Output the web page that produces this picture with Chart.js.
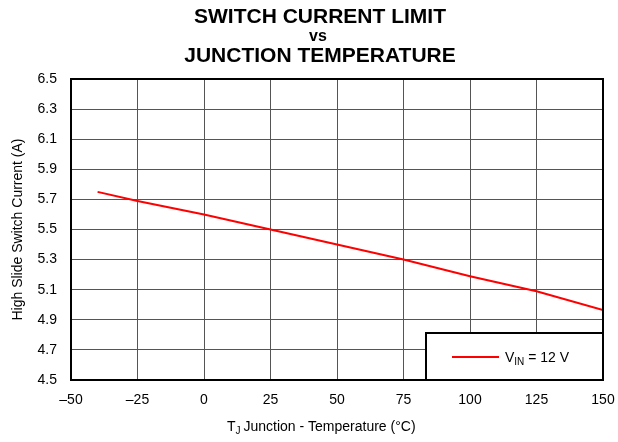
<!DOCTYPE html>
<html>
<head>
<meta charset="utf-8">
<script src="https://cdn.jsdelivr.net/npm/chart.js@4.4.0/dist/chart.umd.min.js"></script>
<style>
  html, body { margin: 0; padding: 0; background: #fff; }
  #wrap { width: 618px; height: 442px; }
</style>
</head>
<body>
<div id="wrap"><canvas id="chart" width="618" height="442"></canvas></div>
<script>
const temps = [-40, -25, 0, 25, 50, 75, 100, 125, 150];
const current = [5.75, 5.69, 5.60, 5.50, 5.40, 5.30, 5.19, 5.09, 4.965];
const xTicks = [-50, -25, 0, 25, 50, 75, 100, 125, 150];
const yTicks = [4.5, 4.7, 4.9, 5.1, 5.3, 5.5, 5.7, 5.9, 6.1, 6.3, 6.5];
const titleLines = ["SWITCH CURRENT LIMIT", "vs", "JUNCTION TEMPERATURE"];
const seriesName = ["V", "IN", " = 12 V"];

const FONT = "'Liberation Sans', Arial, sans-serif";

const extras = {
    id: "extras",
    afterDraw(chart) {
        const ctx = chart.ctx;
        const a = chart.chartArea;
        ctx.save();

        // title
        ctx.fillStyle = "#000";
        ctx.textAlign = "center";
        ctx.textBaseline = "middle";
        ctx.font = "bold 21px " + FONT;
        ctx.fillText(titleLines[0], 320, 17, 254);
        ctx.font = "bold 16px " + FONT;
        ctx.fillText(titleLines[1], 318, 37);
        ctx.font = "bold 21px " + FONT;
        ctx.fillText(titleLines[2], 320, 56, 275);

        // frame
        ctx.strokeStyle = "#000";
        ctx.lineWidth = 2;
        ctx.strokeRect(a.left, a.top, a.right - a.left, a.bottom - a.top);

        // legend box
        const lx = 426, ly = 333;
        ctx.fillStyle = "#fff";
        ctx.fillRect(lx, ly, a.right - lx, a.bottom - ly);
        ctx.strokeStyle = "#000";
        ctx.lineWidth = 2;
        ctx.strokeRect(lx, ly, a.right - lx, a.bottom - ly);
        ctx.strokeStyle = "#ff0000";
        ctx.beginPath();
        ctx.moveTo(452, 357);
        ctx.lineTo(499, 357);
        ctx.stroke();
        ctx.fillStyle = "#000";
        ctx.textAlign = "left";
        ctx.textBaseline = "alphabetic";
        ctx.font = "14px " + FONT;
        let x = 505;
        ctx.fillText(seriesName[0], x, 362);
        x += ctx.measureText(seriesName[0]).width;
        ctx.font = "10px " + FONT;
        ctx.fillText(seriesName[1], x, 365);
        x += ctx.measureText(seriesName[1]).width;
        ctx.font = "14px " + FONT;
        ctx.fillText(seriesName[2], x, 362);

        // x axis title
        const p1 = "T", p2 = "J", p3 = " Junction - Temperature (\u00B0C)";
        let tx = 227;
        ctx.font = "14px " + FONT;
        ctx.fillText(p1, tx, 431);
        tx += ctx.measureText(p1).width;
        ctx.font = "10px " + FONT;
        ctx.fillText(p2, tx, 434);
        tx += ctx.measureText(p2).width - 1;
        ctx.font = "14px " + FONT;
        ctx.fillText(p3, tx, 431);

        // y axis title
        ctx.translate(18, (a.top + a.bottom) / 2);
        ctx.rotate(-Math.PI / 2);
        ctx.textAlign = "center";
        ctx.textBaseline = "middle";
        ctx.font = "14px " + FONT;
        ctx.fillText("High Slide Switch Current (A)", 0, 0);
        ctx.restore();
    }
};

new Chart(document.getElementById("chart"), {
    type: "line",
    data: {
        datasets: [{
            label: "VIN = 12 V",
            data: temps.map((t, i) => ({ x: t, y: current[i] })),
            borderColor: "#ff0000",
            borderWidth: 2,
            pointRadius: 0,
            tension: 0,
            fill: false
        }]
    },
    options: {
        responsive: false,
        animation: false,
        layout: { padding: { top: 79, right: 15, left: 0, bottom: 0 } },
        plugins: {
            legend: { display: false },
            title: { display: false },
            tooltip: { enabled: false }
        },
        scales: {
            x: {
                type: "linear",
                min: -50,
                max: 150,
                afterBuildTicks: s => { s.ticks = xTicks.map(v => ({ value: v })); },
                afterFit: s => { s.height = 62; s.paddingLeft = 0; s.paddingRight = 0; },
                grid: { color: "#555", lineWidth: 1, drawTicks: false },
                border: { display: false },
                ticks: {
                    padding: 12,
                    color: "#000",
                    font: { family: FONT, size: 14 },
                    maxRotation: 0,
                    callback: v => v < 0 ? "\u2013" + Math.abs(v) : String(v)
                }
            },
            y: {
                type: "linear",
                min: 4.5,
                max: 6.5,
                afterBuildTicks: s => { s.ticks = yTicks.map(v => ({ value: v })); },
                afterFit: s => { s.width = 71; s.paddingTop = 0; s.paddingBottom = 0; },
                grid: { color: "#555", lineWidth: 1, drawTicks: false },
                border: { display: false },
                ticks: {
                    padding: 14,
                    color: "#000",
                    font: { family: FONT, size: 14 },
                    callback: v => Number(v).toFixed(1)
                }
            }
        }
    },
    plugins: [extras]
});
</script>
</body>
</html>
